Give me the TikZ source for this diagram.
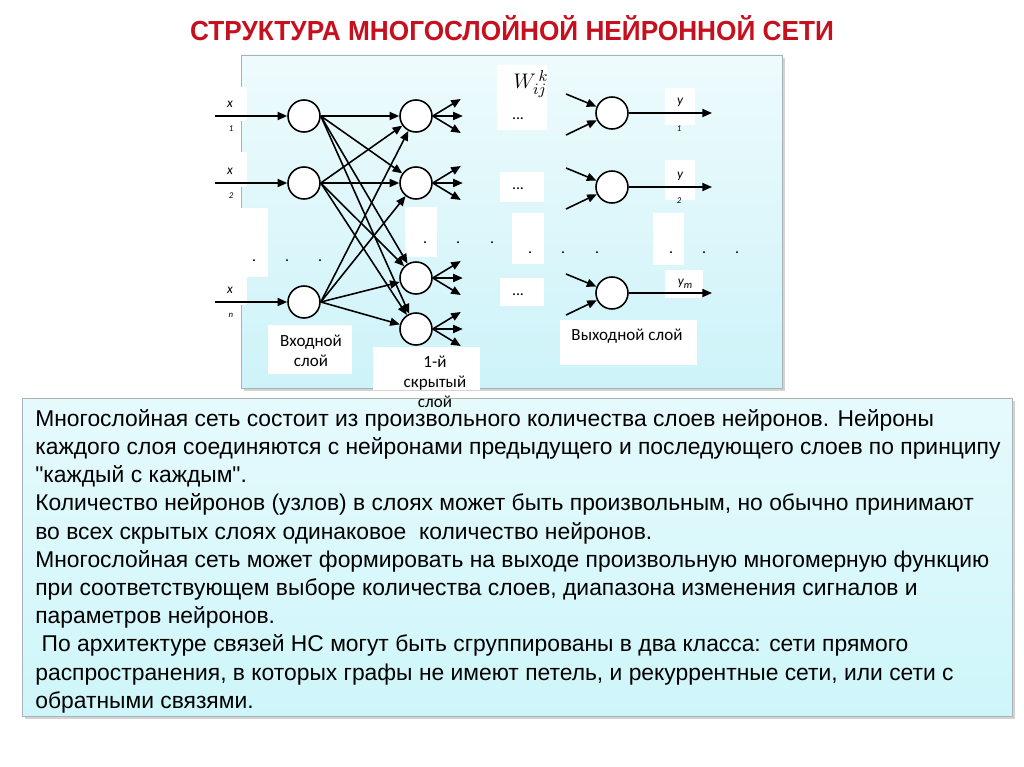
\documentclass[tikz,border=0pt]{standalone}
\usepackage{fontspec}
\setmainfont{Liberation Sans}
\newfontfamily\lblfont{Carlito}
\newfontfamily\titlefont[FakeStretch=0.95]{Liberation Sans}
\usetikzlibrary{arrows.meta,shadows}
\definecolor{titlered}{RGB}{198,16,30}
\definecolor{panelhi}{RGB}{238,251,252}
\definecolor{panello}{RGB}{205,243,249}
\definecolor{boxhi}{RGB}{230,250,252}
\definecolor{boxlo}{RGB}{206,246,250}
\definecolor{rim}{HTML}{A7B3B7}
\tikzset{
  neuron/.style={circle,draw=black,fill=white,line width=0.9pt,minimum size=6.4mm,inner sep=0pt},
  arr/.style={-{Triangle[length=5.5pt,width=4.6pt]},line width=0.9pt},
  patch/.style={fill=white},
  lbl/.style={font=\lblfont\fontsize{9.7}{11.3}\selectfont,align=center,inner sep=0pt},
  sym/.style={font=\lblfont\itshape\fontsize{7.6}{8}\selectfont,inner sep=0pt},
  idx/.style={font=\lblfont\itshape\fontsize{5}{5}\selectfont,inner sep=0pt},
  dotmark/.style={font=\lblfont\fontsize{9}{9}\selectfont,inner sep=0pt},
  body/.style={font=\fontsize{13}{16.05}\selectfont,align=left,inner sep=0pt},
  card/.style={draw=rim,line width=0.5pt,drop shadow={shadow xshift=1.5pt,shadow yshift=-1.5pt,opacity=0.35,fill=gray}},
}
\begin{document}
\begin{tikzpicture}[x=0.02cm,y=-0.02cm]
  \useasboundingbox (0,0) rectangle (1024,767);
  \node[font=\titlefont\bfseries\fontsize{15.7}{18}\selectfont,text=titlered] (title) at (512,28)
    {СТРУКТУРА МНОГОСЛОЙНОЙ НЕЙРОННОЙ СЕТИ};
  % panels
  \path[card,top color=panelhi,bottom color=panello] (241,55) rectangle (782,388);
  \path[card,top color=boxhi,bottom color=boxlo] (22,398) rectangle (1012,716);
  % white text boxes on the panel
  \fill[patch] (222,87) rectangle (247,121);
  \fill[patch] (222,152) rectangle (247,187);
  \fill[patch] (222,208) rectangle (268,277);
  \fill[patch] (222,277) rectangle (247,305);
  \fill[patch] (268,325) rectangle (352,374);
  \fill[patch] (373,347) rectangle (480,390);
  \fill[patch] (405,207) rectangle (437,257);
  \fill[patch] (497,65) rectangle (547,130);
  \fill[patch] (500,172) rectangle (544,202);
  \fill[patch] (512,213) rectangle (544,264);
  \fill[patch] (500,278) rectangle (544,306);
  \fill[patch] (665,88) rectangle (695,125);
  \fill[patch] (665,160) rectangle (695,200);
  \fill[patch] (653,213) rectangle (684,265);
  \fill[patch] (665,270) rectangle (703,298);
  \fill[patch] (560,320) rectangle (697,365);

  % neurons
  \foreach \n/\yy in {1/116,2/183,3/302}
    \node[neuron] (i\n) at (304,\yy) {};
  \foreach \n/\yy in {1/116,2/183,3/278,4/329}
    \node[neuron] (h\n) at (416,\yy) {};
  \foreach \n/\yy in {1/113,2/187,3/293}
    \node[neuron] (o\n) at (612,\yy) {};

  % inputs
  \foreach \n/\yy/\s in {1/116/1,2/183/2,3/302/n} {
    \coordinate (xs\n) at (215,\yy);
    \draw[arr] (xs\n) -- (i\n);
    \node[sym] (xl\n) at (230,\yy-12) {x};
    \node[idx] (xi\n) at (231,\yy+13) {\s};
  }
  \foreach \a in {1,2,3}
    \foreach \b in {1,...,4}
      \draw[arr] (i\a.east) -- (h\b);

  % fan out of the hidden layer
  \foreach \n in {1,...,4} {
    \path (h\n.east) ++(28,-17) coordinate (ha\n) ++(2,17) coordinate (hb\n) ++(-2,17) coordinate (hc\n);
    \draw[arr] (h\n.east) -- (ha\n);
    \draw[arr] (h\n.east) -- (hb\n);
    \draw[arr] (h\n.east) -- (hc\n);
  }

  % output layer
  \foreach \n/\yy in {1/113,2/187,3/293} {
    \coordinate (ua\n) at (566,\yy-19);
    \coordinate (ub\n) at (566,\yy+22);
    \coordinate (ye\n) at (712,\yy);
    \draw[arr] (ua\n) -- (o\n);
    \draw[arr] (ub\n) -- (o\n);
    \draw[arr] (o\n) -- (ye\n);
  }
  \node[sym] (yl1) at (680,102) {y};
  \node[idx] (yi1) at (679,129) {1};
  \node[sym] (yl2) at (680,176) {y};
  \node[idx] (yi2) at (679,201) {2};
  \node[sym] (ylm) at (685,284) {y\raisebox{-1.5pt}{\fontsize{6}{6}\selectfont m}};

  % weights and gaps
  \node[font=\fontsize{12.5}{13}\selectfont,inner sep=0pt] (wgt) at (531,84) {$W_{ij}^{\,k}$};
  \foreach \n/\yy in {1/119,2/189,3/295}
    \node[dotmark] (el\n) at (518,\yy) {...};
  \foreach \n/\xx/\yy in {1/254/261,2/287/261,3/320/261,4/425/243,5/458/243,6/492/243,
                          7/530/253,8/563/253,9/597/253,10/671/253,11/704/253,12/737/253}
    \node[dotmark] (d\n) at (\xx,\yy) {.};

  % layer names
  \node[lbl] (inname) at (311,351) {Входной\\слой};
  \node[lbl] (hidname) at (435,382) {1-й\\скрытый\\слой};
  \node[lbl] (outname) at (627,336) {Выходной слой};

  % explanation
  \node[body,anchor=north west] (txt) at (35,409) {Многослойная сеть состоит из произвольного количества слоев нейронов. Нейроны\\
каждого слоя соединяются с нейронами предыдущего и последующего слоев по принципу\\
\textquotedbl каждый с каждым\textquotedbl.\\
Количество нейронов (узлов) в слоях может быть произвольным, но обычно принимают\\
во всех скрытых слоях одинаковое\ \ количество нейронов.\\
Многослойная сеть может формировать на выходе произвольную многомерную функцию\\
при соответствующем выборе количества слоев, диапазона изменения сигналов и\\
параметров нейронов.\\
\ По архитектуре связей НС могут быть сгруппированы в два класса: сети прямого\\
распространения, в которых графы не имеют петель, и рекуррентные сети, или сети с\\
обратными связями.};
\end{tikzpicture}
\end{document}
